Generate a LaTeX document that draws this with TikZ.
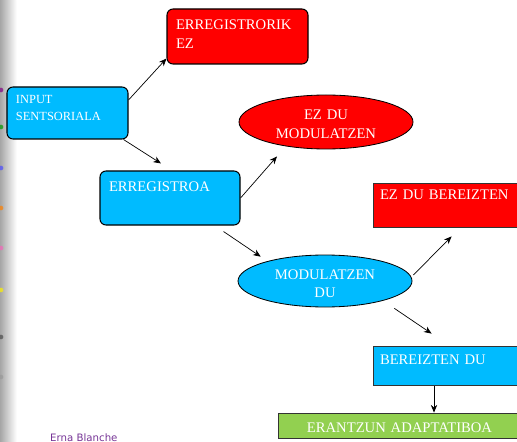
\documentclass[tikz,border=0pt]{standalone}
\usepackage{fontspec}
\setmainfont{Liberation Serif}
\newfontfamily\signfont{DejaVu Sans}
\usetikzlibrary{arrows.meta,calc,shapes.geometric}
\definecolor{skyfill}{RGB}{0,187,255}
\definecolor{redfill}{RGB}{255,0,0}
\definecolor{greenfill}{RGB}{146,208,80}
\definecolor{signcol}{RGB}{118,52,150}
\pgfdeclarelayer{bg}
\pgfsetlayers{bg,main}
\tikzset{
	box/.style={rectangle, draw=black!80, line width=0.7pt, inner sep=0pt, inner xsep=0.27cm, align=left, text=white, font=\fontsize{12.5}{15.5}\selectfont},
	roundbox/.style={box, rounded corners=0.18cm, draw=black, line width=0.9pt},
	oval/.style={ellipse, draw=black, line width=0.7pt, inner sep=0pt, align=center, text width=3.6cm, text=white, font=\fontsize{12.5}{15.5}\selectfont, text height=0.45cm, text depth=0.57cm},
	arr/.style={-{Stealth[length=2.3mm,width=1.9mm]}, line width=0.6pt},
}

\begin{document}
\begin{tikzpicture}
	\useasboundingbox (0,0) rectangle (15.51,-13.26);
	\shade[left color=black!35, right color=white] (0,0) rectangle (0.5,-13.26);
	\foreach \c/\y in {violet/2.7, green!60!black/3.81, blue!70/5.04, orange/6.24, magenta!60/7.44, yellow/8.7, black!70/10.11, black!40/11.31}
		\fill[\c, opacity=.7] (0.03,-\y) circle (0.07);

	\node (in) [roundbox, fill=skyfill, text width=3.09cm, text height=0.51cm, text depth=1.05cm, font=\fontsize{10.6}{14.5}\selectfont] at (2.025cm, -3.39cm) {INPUT\\SENTSORIALA};
	\node (rik) [roundbox, fill=redfill, text width=3.69cm, text height=0.63cm, text depth=1.02cm] at (7.125cm, -1.095cm) {ERREGISTRORIK\\EZ};
	\node (reg) [roundbox, fill=skyfill, text width=3.66cm, text height=0.63cm, text depth=0.99cm] at (5.1cm, -5.94cm) {ERREGISTROA};
	\node (ezm) [oval, fill=redfill, minimum width=5.22cm, minimum height=1.62cm] at (9.78cm, -3.66cm) {EZ DU\\MODULATZEN};
	\node (mod) [oval, fill=skyfill, minimum width=5.22cm, minimum height=1.56cm] at (9.75cm, -8.43cm) {MODULATZEN\\DU};
	\node (ezb) [box, fill=redfill, inner xsep=0.21cm, text width=4.02cm, text height=0.51cm, text depth=0.81cm] at (13.41cm, -6.15cm) {EZ DU BEREIZTEN};
	\node (ber) [box, fill=skyfill, inner xsep=0.21cm, text width=4.02cm, text height=0.54cm, text depth=0.63cm] at (13.41cm, -10.965cm) {BEREIZTEN DU};
	\node (ert) [box, fill=greenfill, align=center, inner xsep=0pt, text width=7.29cm, text height=0.57cm, text depth=0.18cm] at (11.985cm, -12.765cm) {ERANTZUN ADAPTATIBOA};
	\node (sign) [anchor=base west, inner sep=0pt, text=signcol, font=\signfont\fontsize{8.7}{10}\selectfont] at (1.5cm, -13.23cm) {Erna Blanche};

	\begin{pgfonlayer}{bg}
		\draw ($(in.east)+(0,.39)$) edge [arr] ($(rik.south west)+(0,.18)$);
		\draw ($(in.south east)+(-.15,0)$) edge [arr] ($(reg.north)+(-.27,.21)$);
		\draw (reg.east) edge [arr] ($(ezm.south)+(-1.47,-.21)$);
		\draw ($(reg.south east)+(-.51,-.18)$) edge [arr] ($(mod.north west)+(-.075,.17)$);
		\draw ($(mod.east)+(.03,.18)$) edge [arr] ($(ezb.south west)+(2.37,-.27)$);
		\draw ($(mod.south east)+(.225,-.26)$) edge [arr] ($(ber.north west)+(1.77,.36)$);
		\draw ($(ber.south)+(-.39,0)$) coordinate (drop) edge [arr] (drop |- ert.north);
	\end{pgfonlayer}
\end{tikzpicture}
\end{document}
